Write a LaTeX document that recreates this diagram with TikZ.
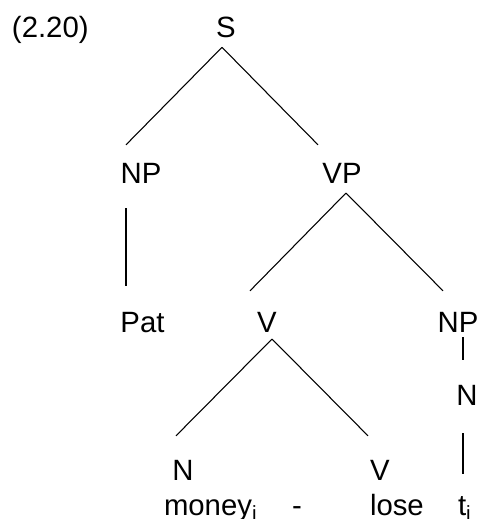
\documentclass[tikz,border=0pt]{standalone}
\usepackage{fontspec}
\setmainfont{Liberation Sans}
\usepackage{tikz}
\usetikzlibrary{calc}

\tikzset{
  lbl/.style={inner sep=0pt, outer sep=0pt, anchor=base, font=\fontsize{22}{26}\selectfont},
  branch/.style={black, line width=0.8pt}
}

\begin{document}
\begin{tikzpicture}[x=0.75pt,y=-0.75pt]
        \useasboundingbox (0,0) rectangle (480,519);

        \node [lbl, anchor=base west] (num) at (12,37) {(2.20)};
        \node [lbl] (S) at (226,37) {S};
        \node [lbl] (NPa) at (141,183) {NP};
        \node [lbl] (VP) at (342,183) {VP};
        \node [lbl] (Pat) at (142.5,332) {Pat};
        \node [lbl] (Va) at (267,332) {V};
        \node [lbl] (NPb) at (458,332) {NP};
        \node [lbl] (Na) at (467,405) {N};
        \node [lbl] (Nb) at (183,480) {N};
        \node [lbl] (Vb) at (380,480) {V};
        \node [lbl, anchor=base west] (money) at (164,515) {money\textsubscript{i}};
        \node [lbl] (dash) at (297,515) {-};
        \node [lbl, anchor=base west] (lose) at (370,515) {lose};
        \node [lbl, anchor=base west] (trace) at (458,515) {t\textsubscript{i}};

        \draw [branch] ([shift={(-4,10)}]S.south) -- ([shift={(-15,-18)}]NPa.north);
        \draw [branch] ([shift={(-4,10)}]S.south) -- ([shift={(-24,-18)}]VP.north);
        \draw [branch] ([shift={(-15,25)}]NPa.south) -- ([shift={(-16.5,-26)}]Pat.north);
        
        \draw [branch] ([shift={(4,10)}]VP.south) -- ([shift={(-17,-21)}]Va.north);
        \draw [branch] ([shift={(4,10)}]VP.south) -- ([shift={(-15,-21)}]NPb.north);
        \draw [branch] ([shift={(5,5)}]NPb.south) -- ([shift={(-4,-25)}]Na.north);
        
        \draw [branch] ([shift={(5,7)}]Va.south) -- ([shift={(-7,-24)}]Nb.north);
        \draw [branch] ([shift={(5,7)}]Va.south) -- ([shift={(-12,-24)}]Vb.north);
        \draw [branch] ($(Na.south)+(-4,28)$) -- ($(Na.south |- trace.north)+(-4,-22.5)$);
        \end{tikzpicture}
\end{document}
